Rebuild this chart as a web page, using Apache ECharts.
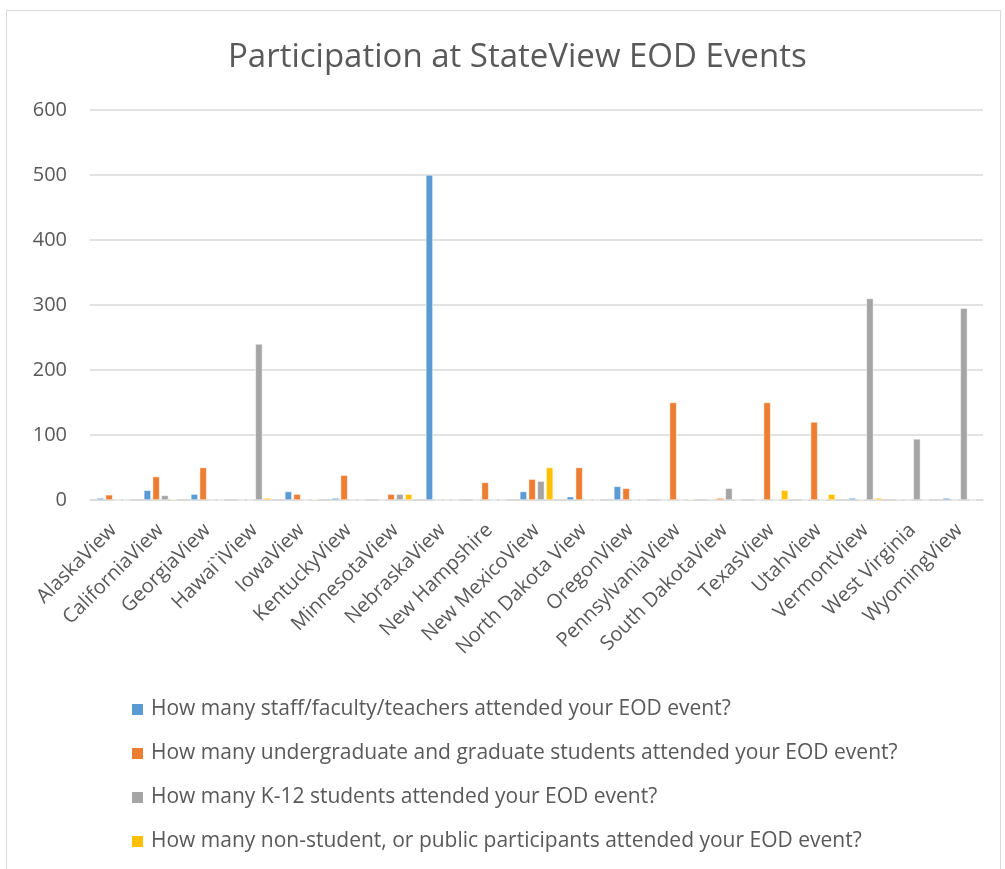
<!DOCTYPE html>
<html>
<head>
<meta charset="utf-8">
<script src="https://cdn.jsdelivr.net/npm/echarts@6/dist/echarts.min.js"></script>
<style>
  html, body { margin: 0; padding: 0; background: #fff; }
  #frame {
    position: absolute; left: 6px; top: 10px; width: 995px; height: 880px;
    border: 1px solid #d9d9d9; box-sizing: border-box;
  }
  #chart { position: absolute; left: 0; top: 0; width: 1005px; height: 869px; }
</style>
</head>
<body>
<div id="frame"></div>
<div id="chart"></div>
<script>
// categories (x axis)
var states = ['AlaskaView', 'CaliforniaView', 'GeorgiaView', 'Hawai`iView', 'IowaView',
  'KentuckyView', 'MinnesotaView', 'NebraskaView', 'New Hampshire', 'New MexicoView',
  'North Dakota View', 'OregonView', 'PennsylvaniaView', 'South DakotaView', 'TexasView',
  'UtahView', 'VermontView', 'West Virginia', 'WyomingView'];

var seriesNames = [
  'How many staff/faculty/teachers attended your EOD event?',
  'How many undergraduate and graduate students attended your EOD event?',
  'How many K-12 students attended your EOD event?',
  'How many non-student, or public participants attended your EOD event?'
];

// values
var staff     = [3, 15, 9, 0, 13, 3, 0, 500, 0, 13, 5, 21, 0, 1, 0, 0, 3, 1, 3];
var students  = [8, 36, 50, 0, 9, 38, 9, 0, 27, 32, 50, 18, 150, 3, 150, 120, 1, 0, 0];
var k12       = [0, 7, 0, 240, 0, 0, 9, 0, 0, 29, 0, 0, 0, 18, 0, 0, 310, 94, 295];
var publicPpl = [0, 1, 0, 3, 1, 0, 9, 0, 0, 50, 0, 0, 1, 0, 15, 9, 3, 0, 0];

var yTicks = [0, 100, 200, 300, 400, 500, 600];

var colors = ['#5B9BD5', '#ED7D31', '#A5A5A5', '#FFC000'];
var font = 'Open Sans';
var textColor = '#595959';

var chart = echarts.init(document.getElementById('chart'));

function bar(name, data, i) {
  return {
    name: name,
    type: 'bar',
    data: data,
    barWidth: 7,
    barGap: '25%',
    itemStyle: { color: colors[i], borderColor: '#fff', borderWidth: 0.5 },
    emphasis: { disabled: true }
  };
}

chart.setOption({
  animation: false,
  color: colors,
  title: {
    text: 'Participation at StateView EOD Events',
    left: 223,
    top: 36,
    textStyle: { fontFamily: font, fontSize: 33, fontWeight: 'normal', color: textColor }
  },
  legend: {
    orient: 'vertical',
    left: 125,
    top: 694,
    itemWidth: 13,
    itemHeight: 13,
    itemGap: 23,
    icon: 'rect',
    data: seriesNames,
    textStyle: { fontFamily: font, fontSize: 21, color: textColor, padding: [0, 0, 0, 2] }
  },
  grid: { left: 90, right: 22, top: 110, bottom: 369, containLabel: false },
  xAxis: {
    type: 'category',
    data: states,
    axisLine: { lineStyle: { color: '#d9d9d9', width: 1.5 } },
    axisTick: { show: false },
    axisLabel: {
      interval: 0,
      rotate: 45,
      margin: 27,
      fontFamily: font,
      fontSize: 20,
      color: textColor
    }
  },
  yAxis: {
    type: 'value',
    min: yTicks[0],
    max: yTicks[yTicks.length - 1],
    interval: 100,
    axisLine: { show: false },
    axisTick: { show: false },
    splitLine: { lineStyle: { color: '#d9d9d9', width: 1.5 } },
    axisLabel: { margin: 23, fontFamily: font, fontSize: 20, color: textColor }
  },
  series: [
    bar(seriesNames[0], staff, 0),
    bar(seriesNames[1], students, 1),
    bar(seriesNames[2], k12, 2),
    bar(seriesNames[3], publicPpl, 3)
  ]
});
</script>
</body>
</html>
